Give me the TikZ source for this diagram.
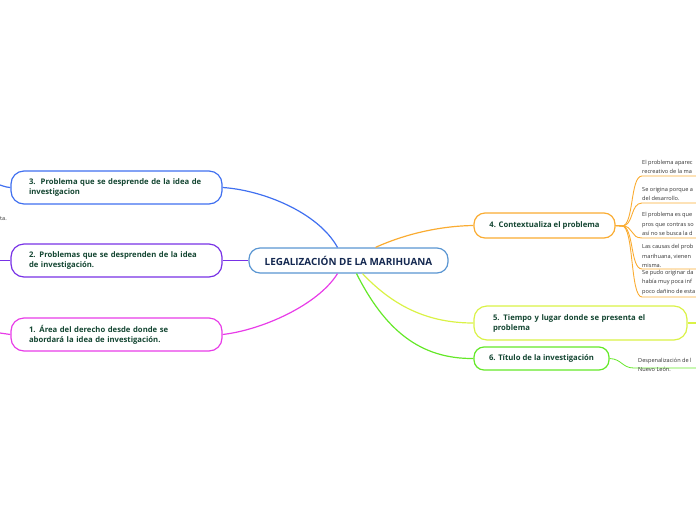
\documentclass[tikz,border=0pt]{standalone}
\usepackage{fontspec}
\setmainfont{Open Sans}
\definecolor{cblue}{RGB}{64,112,240}
\definecolor{cpurple}{RGB}{120,50,230}
\definecolor{cmag}{RGB}{232,60,232}
\definecolor{corange}{RGB}{250,172,50}
\definecolor{cyellow}{RGB}{218,242,70}
\definecolor{cgreen}{RGB}{100,232,40}
\definecolor{croot}{RGB}{90,150,210}
\definecolor{ctext}{RGB}{20,70,50}
\definecolor{croottext}{RGB}{20,40,80}
\definecolor{cchild}{RGB}{50,50,50}
\tikzset{
  topic/.style={draw, fill=white, line width=1.2pt, rounded corners=13pt, inner sep=0pt,
    font=\fontsize{7.7}{10}\selectfont\bfseries, text=ctext},
  rootbox/.style={draw=croot, fill=white, line width=1.2pt, rounded corners=11pt, inner sep=0pt,
    font=\fontsize{9.9}{11}\selectfont\bfseries, text=croottext},
  link/.style={line width=1.2pt},
  childtext/.style={inner sep=0pt, align=left, anchor=south west,
    font=\fontsize{5.6}{9.6}\selectfont, text=cchild}
}
\begin{document}
\begin{tikzpicture}[x=1pt,y=-1pt]
\useasboundingbox (0,0) rectangle (696,520);

% root
\node[rootbox, minimum width=199pt, minimum height=25pt] (root) at (348.5,260.5) {LEGALIZACIÓN DE LA MARIHUANA};

% left topics
\node[topic, draw=cblue, minimum width=211pt, minimum height=33pt, text width=175pt, align=left] (n3) at (116.5,187.5)
  {3.\ \ Problema que se desprende de la idea de\\investigacion};
\node[topic, draw=cpurple, minimum width=211pt, minimum height=33pt, text width=175pt, align=left] (n2) at (116.5,260.5)
  {2. Problemas que se desprenden de la idea\\de investigación.};
\node[topic, draw=cmag, minimum width=211pt, minimum height=33pt, text width=175pt, align=left] (n1) at (116.5,334.5)
  {1. Área del derecho desde donde se\\abordará la idea de investigación.};

% right topics
\node[topic, draw=corange, rounded corners=11pt, minimum width=141pt, minimum height=25pt] (n4) at (544.5,225.5)
  {4. Contextualiza el problema};
\node[topic, draw=cyellow, minimum width=213pt, minimum height=34pt, text width=175pt, align=left] (n5) at (580.5,323)
  {5. Tiempo y lugar donde se presenta el\\problema};
\node[topic, draw=cgreen, rounded corners=10pt, minimum width=135pt, minimum height=23pt] (n6) at (541.5,358.5)
  {6. Título de la investigación};

% root connectors
\draw[link, cblue] ([xshift=-11pt]root.north) .. controls (318,212) and (262,190) .. (n3.east);
\draw[link, cpurple] (root.west) -- (n2.east);
\draw[link, cmag] ([xshift=-11pt]root.south) .. controls (318,305) and (262,330) .. (n1.east);
\draw[link, corange] ([xshift=27pt]root.north) .. controls (405,234) and (440,226) .. (n4.west);
\draw[link, cyellow] ([xshift=14pt]root.south) .. controls (395,308) and (430,323) .. (n5.west);
\draw[link, cgreen] ([xshift=8pt]root.south) .. controls (385,330) and (420,359) .. (n6.west);

% left stubs (children out of view)
\coordinate (l3) at (0,185);
\coordinate (l2) at (0,260.5);
\coordinate (l1) at (0,333);
\draw[link, cblue] (n3.west) .. controls (6,187) .. (l3);
\draw[link, cpurple] (n2.west) -- (l2);
\draw[link, cmag] (n1.west) .. controls (6,334) .. (l1);
\node[inner sep=0pt, anchor=west, font=\fontsize{5.6}{7}\selectfont, text=cchild] (lt) at (0,219) {ta.};

% orange children
\coordinate (hub) at (622,226);
\foreach \yy/\nm in {176/a,203/b,238/c,269/d,297/e}{
  \coordinate (s\nm) at (642,\yy);
  \coordinate (e\nm) at (696,\yy);
  \draw[link, corange, line width=0.9pt] (n4.east) -- (hub) .. controls (634,226) and (630,\yy) .. (s\nm) -- (e\nm);
}
\node[childtext] (ca) at (642,174) {El problema aparec\\recreativo de la ma};
\node[childtext] (cb) at (642,201) {Se origina porque a\\del desarrollo.};
\node[childtext] (cc) at (642,236) {El problema es que\\pros que contras so\\así no se busca la d};
\node[childtext] (cd) at (642,268) {Las causas del prob\\marihuana, vienen\\misma.};
\node[childtext] (ce) at (642,295) {Se pudo originar da\\había muy poca inf\\poco dañino de esta};

% yellow stub
\coordinate (y5) at (696,323);
\draw[link, cyellow] (n5.east) -- (y5);

% green child
\coordinate (gs) at (634,368);
\coordinate (ge) at (696,368);
\draw[link, cgreen, line width=0.8pt] (n6.east) .. controls (622,359) and (622,368) .. (gs) -- (ge);
\node[childtext, anchor=south west] (cg) at (638,372) {Despenalización de l\\Nuevo León.};
\end{tikzpicture}
\end{document}
